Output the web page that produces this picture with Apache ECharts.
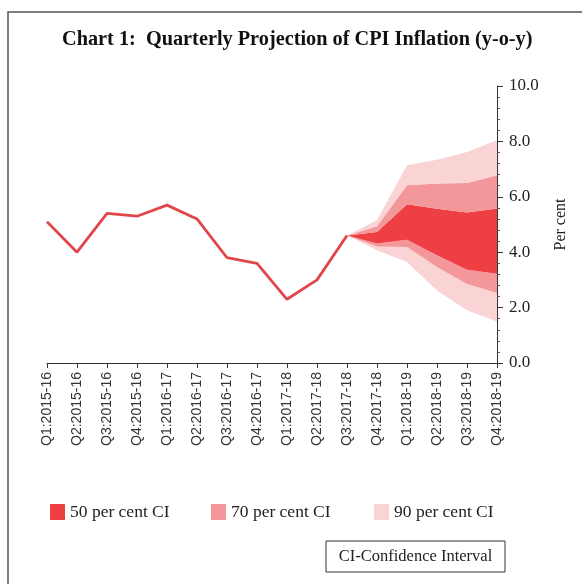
<!DOCTYPE html>
<html>
<head>
<meta charset="utf-8">
<script src="https://cdn.jsdelivr.net/npm/echarts@6/dist/echarts.min.js"></script>
<style>html,body{margin:0;padding:0;background:#fff;}#c{width:582px;height:584px;}</style>
</head>
<body>
<div id="c"></div>
<script>
const categories = ['Q1:2015-16','Q2:2015-16','Q3:2015-16','Q4:2015-16','Q1:2016-17','Q2:2016-17','Q3:2016-17','Q4:2016-17','Q1:2017-18','Q2:2017-18','Q3:2017-18','Q4:2017-18','Q1:2018-19','Q2:2018-19','Q3:2018-19','Q4:2018-19'];
const cpiActual = [5.1, 4.0, 5.4, 5.3, 5.7, 5.2, 3.8, 3.6, 2.3, 3.0, 4.6];
// projection bands, starting at Q3:2017-18
const lower90 = [4.6, 4.07, 3.65, 2.62, 1.9, 1.5];
const lower70 = [4.6, 4.21, 4.19, 3.47, 2.85, 2.53];
const lower50 = [4.6, 4.31, 4.45, 3.89, 3.37, 3.22];
const upper50 = [4.6, 4.73, 5.73, 5.57, 5.43, 5.58];
const upper70 = [4.6, 4.94, 6.42, 6.48, 6.50, 6.78];
const upper90 = [4.6, 5.15, 7.14, 7.34, 7.62, 8.04];
const yTicks = [0, 2, 4, 6, 8, 10];

const startIdx = categories.length - lower90.length;
function pad(arr){ const out = []; for (let i = 0; i < startIdx; i++) out.push('-'); return out.concat(arr); }
function diff(a, b){ return a.map((v, i) => +(v - b[i]).toFixed(3)); }

const C50 = '#ee3f45', C70 = '#f4979a', C90 = '#fad3d5';
const serif = 'Liberation Serif';

function band(name, data, color){
  return { name, type: 'line', stack: 'fan', data: pad(data), symbol: 'none', showSymbol: false,
    lineStyle: { width: 0, opacity: 0 }, areaStyle: { color, opacity: 1 }, itemStyle: { color },
    emphasis: { disabled: true }, silent: true, z: 2 };
}

const chart = echarts.init(document.getElementById('c'), null, { renderer: 'canvas' });
chart.setOption({
  animation: false,
  backgroundColor: '#fff',
  title: { text: 'Chart 1:  Quarterly Projection of CPI Inflation (y-o-y)', left: 57, top: 25,
    textStyle: { fontFamily: serif, fontWeight: 'bold', fontSize: 20.3, color: '#111' } },
  grid: { left: 47, right: 85, top: 86, bottom: 221, containLabel: false },
  legend: [
    { data: ['50 per cent CI'], left: 45, top: 498 },
    { data: ['70 per cent CI'], left: 206, top: 498 },
    { data: ['90 per cent CI'], left: 369, top: 498 }
  ].map(l => Object.assign(l, { icon: 'rect', itemWidth: 15, itemHeight: 16, selectedMode: false,
    textStyle: { fontFamily: serif, fontSize: 17.5, color: '#222' } })),
  xAxis: {
    type: 'category', data: categories, boundaryGap: false,
    axisLine: { lineStyle: { color: '#333', width: 1 } },
    axisTick: { show: true, length: 5, lineStyle: { color: '#333' } },
    axisLabel: { rotate: 90, fontFamily: 'Liberation Sans', fontSize: 14, color: '#333', margin: 9, interval: 0 },
    splitLine: { show: false }
  },
  yAxis: {
    type: 'value', position: 'right', min: yTicks[0], max: yTicks[yTicks.length - 1], interval: 2,
    name: 'Per cent', nameLocation: 'middle', nameRotate: 90, nameGap: 56,
    nameTextStyle: { fontFamily: serif, fontSize: 16, color: '#222' },
    axisLine: { show: true, lineStyle: { color: '#333', width: 1 } },
    axisTick: { show: true, length: 6, lineStyle: { color: '#333' } },
    minorTick: { show: true, splitNumber: 5, length: 3, lineStyle: { color: '#555' } },
    axisLabel: { formatter: v => v.toFixed(1), fontFamily: serif, fontSize: 17, color: '#222', margin: 12 },
    splitLine: { show: false }
  },
  series: [
    { name: 'base', type: 'line', stack: 'fan', data: pad(lower90), symbol: 'none', lineStyle: { width: 0, opacity: 0 }, silent: true, z: 1 },
    band('90 per cent CI', diff(lower70, lower90), C90),
    band('70 per cent CI', diff(lower50, lower70), C70),
    band('50 per cent CI', diff(upper50, lower50), C50),
    band('70 per cent CI', diff(upper70, upper50), C70),
    band('90 per cent CI', diff(upper90, upper70), C90),
    { name: 'CPI', type: 'line', data: cpiActual, symbol: 'none', lineStyle: { color: '#e0464a', width: 2.8 }, z: 5, silent: true }
  ],
  graphic: [
    { type: 'rect', shape: { x: 8, y: 12, width: 620, height: 620 }, style: { fill: 'none', stroke: '#555', lineWidth: 1.5 }, silent: true },
    { type: 'rect', shape: { x: 326, y: 541, width: 179, height: 31 }, style: { fill: '#fff', stroke: '#333', lineWidth: 1 }, silent: true },
    { type: 'text', x: 415.5, y: 556.5, style: { text: 'CI-Confidence Interval', fontFamily: serif, fontSize: 16.5, fill: '#222', align: 'center', verticalAlign: 'middle' }, silent: true }
  ]
});
</script>
</body>
</html>
